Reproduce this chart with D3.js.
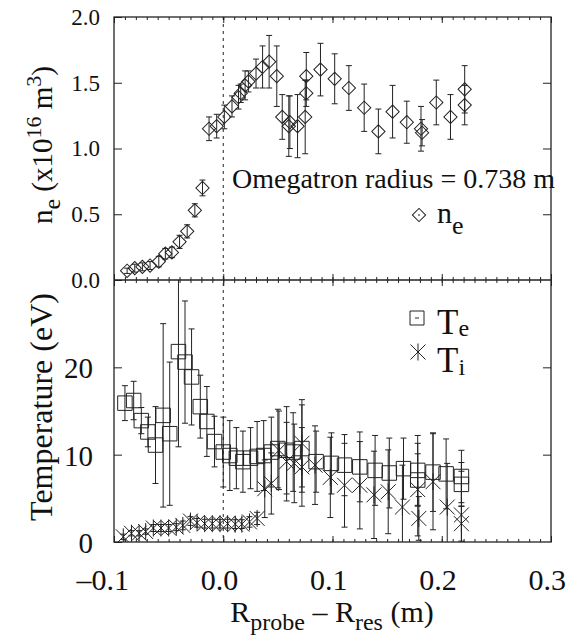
<!DOCTYPE html>
<html lang="en">
<head>
<meta charset="UTF-8">
<title>Omegatron radial profiles</title>
<script src="https://d3js.org/d3.v7.min.js"></script>
<style>
  body { margin: 0; background: #fff; }
  svg { display: block; }
  svg text { font-family: "Liberation Serif", "DejaVu Serif", "Times New Roman", serif; }
</style>
</head>
<body>
<svg id="chart"></svg>
<script>
// electron density (x10^16 m^-3) vs R_probe - R_res (m)
const neX = [-0.088, -0.081, -0.074, -0.067, -0.059, -0.053, -0.047, -0.040, -0.033, -0.026,
             -0.019, -0.013, -0.006, 0.001, 0.008, 0.014, 0.016, 0.020, 0.023, 0.030,
             0.036, 0.042, 0.049, 0.054, 0.060, 0.061, 0.068, 0.075, 0.076, 0.076,
             0.089, 0.102, 0.115, 0.129, 0.142, 0.155, 0.168, 0.181, 0.182, 0.195,
             0.208, 0.221, 0.221];
const neY = [0.07, 0.09, 0.10, 0.11, 0.14, 0.20, 0.21, 0.29, 0.37, 0.53,
             0.70, 1.15, 1.17, 1.24, 1.32, 1.39, 1.42, 1.48, 1.51, 1.57,
             1.62, 1.66, 1.55, 1.24, 1.17, 1.20, 1.17, 1.24, 1.42, 1.55,
             1.60, 1.53, 1.46, 1.31, 1.13, 1.28, 1.20, 1.15, 1.12, 1.35,
             1.24, 1.45, 1.33];
const neErr = [0.02, 0.03, 0.03, 0.03, 0.04, 0.04, 0.04, 0.05, 0.05, 0.05,
               0.06, 0.09, 0.09, 0.09, 0.08, 0.09, 0.07, 0.11, 0.08, 0.11,
               0.16, 0.20, 0.23, 0.17, 0.23, 0.20, 0.24, 0.28, 0.10, 0.18,
               0.20, 0.19, 0.17, 0.18, 0.17, 0.20, 0.16, 0.17, 0.10, 0.17,
               0.17, 0.18, 0.15];

// electron temperature (eV)
const teX = [-0.090, -0.082, -0.075, -0.069, -0.062, -0.055, -0.049, -0.041, -0.035, -0.029,
             -0.021, -0.015, -0.008, 0.000, 0.006, 0.012, 0.018, 0.025, 0.031, 0.037,
             0.044, 0.050, 0.058, 0.064, 0.072, 0.085, 0.099, 0.111, 0.125, 0.139,
             0.152, 0.165, 0.178, 0.178, 0.192, 0.204, 0.218, 0.218];
const teY = [15.9, 16.2, 13.9, 12.6, 11.1, 14.5, 12.4, 21.8, 20.6, 18.9,
             15.5, 13.8, 11.5, 10.3, 9.9, 9.6, 9.2, 9.6, 9.8, 9.9,
             10.3, 10.7, 10.5, 10.3, 10.7, 9.2, 9.0, 8.8, 8.6, 8.2,
             7.9, 8.4, 8.2, 7.1, 8.0, 7.8, 7.5, 6.6];
const teErr = [2.0, 2.2, 1.5, 1.7, 4.4, 10.5, 8.2, 10.9, 7.0, 5.5,
               3.6, 4.0, 2.9, 4.0, 4.0, 3.5, 3.5, 3.5, 4.0, 4.0,
               4.0, 4.5, 5.0, 4.5, 5.0, 3.5, 3.5, 3.5, 4.0, 4.0,
               4.0, 3.5, 4.0, 3.0, 4.5, 4.0, 3.0, 2.5];

// ion temperature (eV)
const tiX = [-0.0915, -0.084, -0.077, -0.071, -0.064, -0.057, -0.050, -0.043, -0.037, -0.030,
             -0.024, -0.017, -0.010, -0.003, 0.004, 0.011, 0.017, 0.024, 0.031, 0.038,
             0.044, 0.051, 0.058, 0.065, 0.072, 0.072, 0.084, 0.098, 0.111, 0.125,
             0.138, 0.151, 0.164, 0.178, 0.179, 0.192, 0.205, 0.218, 0.218];
const tiY = [0.6, 1.0, 1.0, 1.2, 1.6, 1.6, 1.6, 1.7, 1.9, 2.4,
             2.2, 2.1, 2.1, 2.1, 2.1, 2.05, 2.05, 2.3, 2.7, 6.1,
             6.7, 10.5, 9.2, 9.0, 8.6, 11.3, 8.8, 7.4, 6.5, 6.5,
             5.4, 5.75, 4.0, 6.0, 2.7, 6.9, 4.0, 3.1, 2.1];
const tiErr = [0.3, 0.3, 0.3, 0.3, 0.4, 0.4, 0.4, 0.4, 0.5, 0.5,
               0.5, 0.5, 0.5, 0.5, 0.5, 0.5, 0.5, 0.6, 0.7, 3.3,
               3.5, 4.5, 4.5, 4.5, 4.5, 5.0, 4.5, 4.6, 4.8, 5.0,
               5.0, 4.8, 4.8, 5.3, 2.5, 5.5, 5.0, 5.0, 2.0];

// tick values
const xMajor = [-0.1, 0.0, 0.1, 0.2, 0.3];
const xMinor = d3.range(-100, 301, 10).map(d => d / 1000);
const neTicks = [0, 0.5, 1.0, 1.5, 2.0];
const tTicks = [0, 10, 20];

const ink = "#222";
const serif = '"Liberation Serif", "DejaVu Serif", "Times New Roman", serif';
const svg = d3.select("#chart").attr("width", 571).attr("height", 641)
  .style("font-family", serif);

const x = d3.scaleLinear().domain([-0.1, 0.3]).range([114, 551]);
const yNe = d3.scaleLinear().domain([0, 2]).range([280, 17]);
const yT = d3.scaleLinear().domain([0, 30]).range([542, 280]);

// clip each panel
const defs = svg.append("defs");
defs.append("clipPath").attr("id", "clipTop").append("rect")
  .attr("x", 114).attr("y", 17).attr("width", 437).attr("height", 263);
defs.append("clipPath").attr("id", "clipBot").append("rect")
  .attr("x", 114).attr("y", 280).attr("width", 437).attr("height", 262);

// frame and separator
svg.append("rect").attr("x", 114).attr("y", 17).attr("width", 437).attr("height", 525)
  .attr("fill", "none").attr("stroke", ink).attr("stroke-width", 1.3);
svg.append("line").attr("x1", 114).attr("x2", 551).attr("y1", 280).attr("y2", 280)
  .attr("stroke", ink).attr("stroke-width", 1.3);

// dashed line at x = 0
svg.append("line").attr("x1", x(0)).attr("x2", x(0)).attr("y1", 17).attr("y2", 542)
  .attr("stroke", ink).attr("stroke-width", 1).attr("stroke-dasharray", "3,4");

function clean(g) {
  g.select(".domain").remove();
  g.selectAll("line").attr("stroke", ink);
  g.attr("font-size", null).attr("font-family", serif);
}

// x ticks on every horizontal edge, pointing inward
[[17, d3.axisTop], [280, d3.axisBottom], [280, d3.axisTop], [542, d3.axisBottom]].forEach(([yy, ax]) => {
  svg.append("g").attr("transform", `translate(0,${yy})`)
    .call(ax(x).tickValues(xMinor).tickSize(-3).tickFormat(""))
    .call(clean);
  svg.append("g").attr("transform", `translate(0,${yy})`)
    .call(ax(x).tickValues(xMajor).tickSize(-6).tickFormat(""))
    .call(clean);
});

// x tick labels
const xLab = svg.append("g").attr("transform", "translate(0,542)")
  .call(d3.axisBottom(x).tickValues(xMajor).tickSize(0).tickPadding(27)
    .tickFormat(d => (d < 0 ? "\u2013" : "") + Math.abs(d).toFixed(1)))
  .call(clean);
xLab.selectAll("text").attr("fill", "#111").style("font-size", "30px")
  .attr("text-anchor", "end").attr("dx", 14.5);

// left y axes
svg.append("g").attr("transform", "translate(114,0)")
  .call(d3.axisLeft(yNe).tickValues(neTicks).tickSize(-8).tickPadding(14).tickFormat(d3.format(".1f")))
  .call(clean)
  .selectAll("text").attr("fill", "#111").style("font-size", "23px");
svg.append("g").attr("transform", "translate(114,0)")
  .call(d3.axisLeft(yT).tickValues(tTicks).tickSize(-8).tickPadding(21))
  .call(clean)
  .selectAll("text").attr("fill", "#111").style("font-size", "29px").attr("dy", "0.36em");

// right y ticks
svg.append("g").attr("transform", "translate(551,0)")
  .call(d3.axisRight(yNe).tickValues([0.5, 1.0, 1.5]).tickSize(-8).tickFormat(""))
  .call(clean);
svg.append("g").attr("transform", "translate(551,0)")
  .call(d3.axisRight(yT).tickValues([10, 20]).tickSize(-8).tickFormat(""))
  .call(clean);

// error bars with caps
function errorBars(g, xs, ys, es, yScale) {
  const d = xs.map((v, i) => ({ x: v, lo: ys[i] - es[i], hi: ys[i] + es[i] }));
  const eb = g.append("g").attr("stroke", ink).attr("stroke-width", 1);
  eb.selectAll(".v").data(d).join("line")
    .attr("x1", p => x(p.x)).attr("x2", p => x(p.x))
    .attr("y1", p => yScale(p.lo)).attr("y2", p => yScale(p.hi));
  ["lo", "hi"].forEach(k => {
    eb.append("g").selectAll("line").data(d).join("line")
      .attr("x1", p => x(p.x) - 3).attr("x2", p => x(p.x) + 3)
      .attr("y1", p => yScale(p[k])).attr("y2", p => yScale(p[k]));
  });
}

const topPanel = svg.append("g").attr("clip-path", "url(#clipTop)");
const botPanel = svg.append("g").attr("clip-path", "url(#clipBot)");

errorBars(topPanel, neX, neY, neErr, yNe);
errorBars(botPanel, teX, teY, teErr, yT);
errorBars(botPanel, tiX, tiY, tiErr, yT);

// marker shapes
const diamond = d3.symbol(d3.symbolSquare, 88)();
const square = d3.symbol(d3.symbolSquare, 210)();
const star = "M0,-8.5V8.5M-7.5,-7.5L7.5,7.5M-7.5,7.5L7.5,-7.5";

topPanel.append("g").selectAll("path").data(neX.map((v, i) => [v, neY[i]])).join("path")
  .attr("d", diamond)
  .attr("transform", p => `translate(${x(p[0])},${yNe(p[1])}) rotate(45)`)
  .attr("fill", "none").attr("stroke", ink).attr("stroke-width", 1);

botPanel.append("g").selectAll("path").data(teX.map((v, i) => [v, teY[i]])).join("path")
  .attr("d", square)
  .attr("transform", p => `translate(${x(p[0])},${yT(p[1])})`)
  .attr("fill", "none").attr("stroke", ink).attr("stroke-width", 1);

botPanel.append("g").selectAll("path").data(tiX.map((v, i) => [v, tiY[i]])).join("path")
  .attr("d", star)
  .attr("transform", p => `translate(${x(p[0])},${yT(p[1])})`)
  .attr("fill", "none").attr("stroke", ink).attr("stroke-width", 1);

// annotation and legends
svg.append("text").attr("x", 232).attr("y", 188).attr("fill", "#111")
  .style("font-size", "28px").text("Omegatron radius = 0.738 m");

svg.append("path").attr("d", diamond).attr("transform", "translate(419,215) rotate(45)")
  .attr("fill", "none").attr("stroke", ink);
svg.append("line").attr("x1", 418).attr("x2", 420).attr("y1", 215).attr("y2", 215).attr("stroke", ink);
const leg1 = svg.append("text").attr("x", 437).attr("y", 223).attr("fill", "#111").style("font-size", "30px");
leg1.append("tspan").text("n");
leg1.append("tspan").attr("dy", 11).style("font-size", "26px").text("e");

svg.append("path").attr("d", d3.symbol(d3.symbolSquare, 196)()).attr("transform", "translate(417,318)")
  .attr("fill", "none").attr("stroke", ink);
svg.append("line").attr("x1", 415).attr("x2", 419).attr("y1", 318).attr("y2", 318).attr("stroke", ink);
const leg2 = svg.append("text").attr("x", 437).attr("y", 334).attr("fill", "#111").style("font-size", "35px");
leg2.append("tspan").text("T");
leg2.append("tspan").attr("dy", 2).style("font-size", "24px").text("e");

svg.append("path").attr("d", star).attr("transform", "translate(418,352)")
  .attr("fill", "none").attr("stroke", ink);
const leg3 = svg.append("text").attr("x", 437).attr("y", 372).attr("fill", "#111").style("font-size", "35px");
leg3.append("tspan").text("T");
leg3.append("tspan").attr("dy", 3).style("font-size", "24px").text("i");

// axis titles
const yt1 = svg.append("text").attr("transform", "translate(52,145) rotate(-90)")
  .attr("text-anchor", "middle").attr("fill", "#111").style("font-size", "29px");
yt1.append("tspan").text("n");
yt1.append("tspan").attr("dy", 8).style("font-size", "24px").text("e");
yt1.append("tspan").attr("dy", -8).text(" (x10");
yt1.append("tspan").attr("dy", -11).style("font-size", "22px").text("16");
yt1.append("tspan").attr("dy", 11).text(" m");
yt1.append("tspan").attr("dy", -11).style("font-size", "22px").text("3");
yt1.append("tspan").attr("dy", 11).text(")");

svg.append("text").attr("transform", "translate(52,407) rotate(-90)")
  .attr("text-anchor", "middle").attr("fill", "#111").style("font-size", "32px")
  .text("Temperature (eV)");

const xt = svg.append("text").attr("x", 332).attr("y", 622)
  .attr("text-anchor", "middle").attr("fill", "#111").style("font-size", "30px");
xt.append("tspan").text("R");
xt.append("tspan").attr("dy", 8).style("font-size", "24px").text("probe");
xt.append("tspan").attr("dy", -8).text(" \u2013 R");
xt.append("tspan").attr("dy", 8).style("font-size", "24px").text("res");
xt.append("tspan").attr("dy", -8).text(" (m)");
</script>
</body>
</html>
